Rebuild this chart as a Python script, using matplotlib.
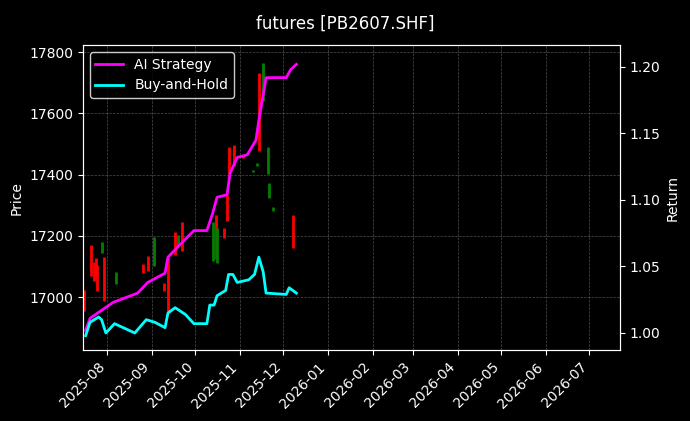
import matplotlib
matplotlib.use("Agg")
import matplotlib.pyplot as plt
import matplotlib.dates as mdates
import pandas as pd

candle_dates = ["2025-07-16","2025-07-21","2025-07-23","2025-07-24","2025-07-25","2025-07-28","2025-07-30",
                "2025-08-07","2025-08-26","2025-08-29","2025-09-02","2025-09-09","2025-09-12","2025-09-17",
                "2025-09-19","2025-09-22","2025-10-13","2025-10-15","2025-10-16","2025-10-21","2025-10-23",
                "2025-10-24","2025-10-28","2025-11-03","2025-11-10","2025-11-13","2025-11-14","2025-11-17",
                "2025-11-20","2025-11-21","2025-11-24","2025-12-08"]
opens  = [16957,17071,17055,17071,17022,17179,16990,17081,17081,17088,17195,17022,16950,17140,
          17202,17153,17244,17127,17225,17195,17251,17405,17431,17457,17413,17436,17480,17764,
          17490,17372,17294,17163]
closes = [17022,17169,17114,17127,17104,17146,17130,17045,17107,17133,17104,17045,17127,17212,
          17169,17244,17120,17267,17114,17225,17333,17490,17496,17461,17409,17431,17731,17643,
          17405,17326,17284,17267]

strat_dates = ["2025-07-17","2025-07-20","2025-07-28","2025-08-05","2025-08-22","2025-08-29","2025-09-10",
               "2025-09-12","2025-09-20","2025-09-30","2025-10-09","2025-10-13","2025-10-16","2025-10-23",
               "2025-10-25","2025-10-30","2025-11-06","2025-11-12","2025-11-14","2025-11-19","2025-12-03",
               "2025-12-06","2025-12-10"]
strat_ret = [1.002,1.011,1.017,1.023,1.030,1.038,1.045,1.057,1.066,1.077,1.077,1.090,1.102,1.104,
             1.120,1.132,1.134,1.145,1.160,1.192,1.192,1.198,1.202]

bh_dates = ["2025-07-17","2025-07-20","2025-07-26","2025-07-28","2025-07-31","2025-08-06","2025-08-20",
            "2025-08-28","2025-09-03","2025-09-10","2025-09-12","2025-09-17","2025-09-24","2025-09-30",
            "2025-10-09","2025-10-11","2025-10-14","2025-10-16","2025-10-22","2025-10-24","2025-10-27",
            "2025-10-30","2025-11-07","2025-11-11","2025-11-14","2025-11-17","2025-11-19","2025-12-03",
            "2025-12-05","2025-12-10"]
bh_ret = [0.998,1.008,1.012,1.010,1.000,1.007,1.000,1.010,1.008,1.004,1.015,1.019,1.014,1.007,
          1.007,1.021,1.021,1.028,1.032,1.044,1.044,1.038,1.040,1.044,1.057,1.046,1.030,1.029,
          1.034,1.030]

plt.rcParams['font.family'] = ['DejaVu Sans']
fig = plt.figure(figsize=(6.9, 4.21), dpi=100, facecolor='black')
ax = fig.add_axes([0.12, 0.168, 0.778, 0.725], facecolor='black')
cd = pd.to_datetime(candle_dates)
colors = ['red' if c >= o else 'green' for o, c in zip(opens, closes)]
lo = [min(o, c) - 1.5 for o, c in zip(opens, closes)]
hi = [max(o, c) + 1.5 for o, c in zip(opens, closes)]
ax.vlines(cd, lo, hi, colors=colors, linewidth=2)
ax.set_ylim(16827, 17823)
ax.set_xlim(pd.Timestamp("2025-07-15"), pd.Timestamp("2026-07-22"))
ax.set_ylabel("Price", color='white')
ax.grid(True, color='gray', linestyle='--', linewidth=0.5, alpha=0.6)

ax2 = ax.twinx()
ax2.plot(pd.to_datetime(strat_dates), strat_ret, color='magenta', lw=2, label='AI Strategy')
ax2.plot(pd.to_datetime(bh_dates), bh_ret, color='cyan', lw=2, label='Buy-and-Hold')
ax2.set_ylim(0.987, 1.2165)
ax2.set_ylabel("Return", color='white')
ax2.set_xlim(pd.Timestamp("2025-07-15"), pd.Timestamp("2026-07-22"))

for a in (ax, ax2):
    a.tick_params(colors='white')
    for s in a.spines.values():
        s.set_color('white')
ax.xaxis.set_major_locator(mdates.MonthLocator())
ax.xaxis.set_major_formatter(mdates.DateFormatter('%Y-%m'))
plt.setp(ax.get_xticklabels(), rotation=45, ha='right')
leg = ax2.legend(loc='upper left', facecolor='black', edgecolor='white', labelcolor='white')
fig.suptitle("futures [PB2607.SHF]", color='white', y=0.965)
fig.savefig("out.png", facecolor='black')
